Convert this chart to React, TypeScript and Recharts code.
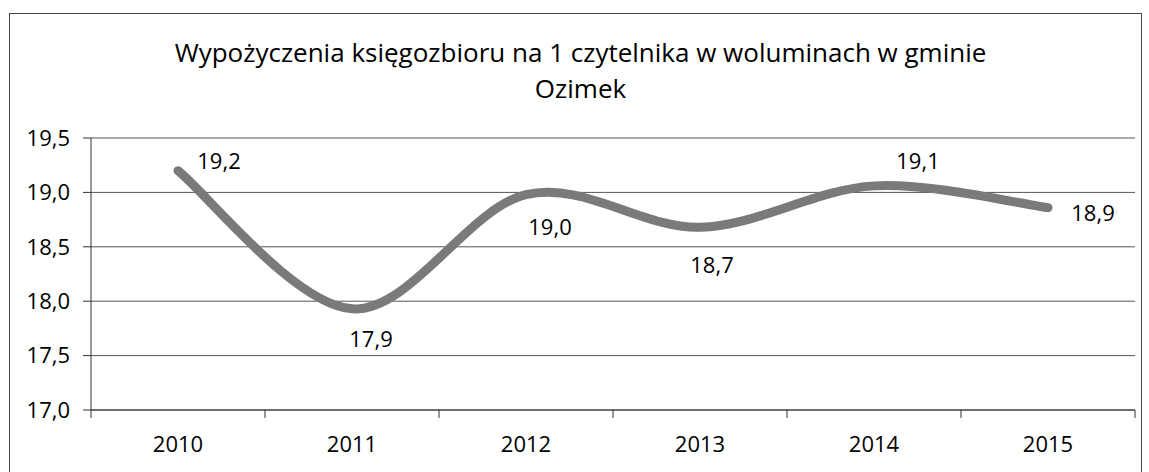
import { CartesianGrid, LabelList, Line, LineChart, XAxis, YAxis } from "recharts";

const years = ["2010", "2011", "2012", "2013", "2014", "2015"];
const loansPerReader = [19.2, 17.93, 18.98, 18.68, 19.06, 18.86];
const yTicks = [17, 17.5, 18, 18.5, 19, 19.5];
const separatorTicks = [-0.5, 0.5, 1.5, 2.5, 3.5, 4.5, 5.5];

const data = years.map((year, idx) => ({ idx, year, value: loansPerReader[idx] }));

// label offsets from the point, per year (dx, dy)
const labelOffsets = [
  [41, -11],
  [19, 29],
  [24, 31],
  [12, 37],
  [44, -26],
  [45, 4],
];

const FONT = "'Open Sans', sans-serif";
const fmt = (v: number) => v.toFixed(1).replace(".", ",");

// Excel-like smoothed line (Catmull-Rom through the points)
function excelSmooth(context: any) {
  let pts: number[][] = [];
  return {
    areaStart() {},
    areaEnd() {},
    lineStart() {
      pts = [];
    },
    point(x: number, y: number) {
      pts.push([+x, +y]);
    },
    lineEnd() {
      if (!pts.length) return;
      context.moveTo(pts[0][0], pts[0][1]);
      for (let i = 0; i < pts.length - 1; i++) {
        const p0 = pts[i - 1] || pts[i];
        const p1 = pts[i];
        const p2 = pts[i + 1];
        const p3 = pts[i + 2] || pts[i + 1];
        context.bezierCurveTo(
          p1[0] + (p2[0] - p0[0]) / 6,
          p1[1] + (p2[1] - p0[1]) / 6,
          p2[0] - (p3[0] - p1[0]) / 6,
          p2[1] - (p3[1] - p1[1]) / 6,
          p2[0],
          p2[1]
        );
      }
    },
  };
}

function ValueLabel(props: any) {
  const { x, y, value, index } = props;
  const [dx, dy] = labelOffsets[index] || [0, 0];
  return (
    <text
      x={x + dx}
      y={y + dy}
      textAnchor="middle"
      dominantBaseline="central"
      fontFamily={FONT}
      fontSize={22}
      fill="#000"
    >
      {fmt(value)}
    </text>
  );
}

export default function App() {
  return (
    <div
      style={{
        position: "absolute",
        left: 0,
        top: 0,
        width: 1149,
        height: 472,
        background: "#fff",
        overflow: "hidden",
        fontFamily: FONT,
      }}
    >
      <div
        style={{
          position: "absolute",
          left: 9,
          top: 13,
          width: 1131,
          height: 470,
          border: "1px solid #444",
        }}
      />
      <div
        style={{
          position: "absolute",
          left: 14,
          top: 34,
          width: 1133,
          textAlign: "center",
          fontSize: 26,
          lineHeight: "36px",
          color: "#000",
        }}
      >
        Wypożyczenia księgozbioru na 1 czytelnika w woluminach w gminie
        <br />
        Ozimek
      </div>
      <LineChart
        width={1149}
        height={472}
        data={data}
        margin={{ top: 138, right: 14, bottom: 22, left: 0 }}
        style={{ position: "absolute", left: 0, top: 0 }}
      >
        <CartesianGrid stroke="#555" vertical={false} />
        <XAxis
          xAxisId="sep"
          type="number"
          dataKey="idx"
          domain={[-0.5, 5.5]}
          ticks={separatorTicks}
          tickFormatter={() => ""}
          tickSize={8}
          height={8}
          stroke="#333"
          allowDataOverflow
        />
        <XAxis
          xAxisId="years"
          type="number"
          dataKey="idx"
          domain={[-0.5, 5.5]}
          ticks={[0, 1, 2, 3, 4, 5]}
          tickFormatter={(v: number) => years[v]}
          axisLine={false}
          tickLine={false}
          tickMargin={12}
          height={32}
          tick={{ fill: "#000", fontSize: 22, fontFamily: FONT }}
          allowDataOverflow
        />
        <YAxis
          width={91}
          domain={[17, 19.5]}
          ticks={yTicks}
          tickFormatter={fmt}
          tickSize={8}
          tickMargin={13}
          stroke="#333"
          tick={{ fill: "#000", fontSize: 22, fontFamily: FONT }}
          allowDataOverflow
        />
        <Line
          xAxisId="years"
          dataKey="value"
          type={excelSmooth as any}
          stroke="#7a7a7a"
          strokeWidth={9}
          strokeLinecap="round"
          dot={false}
          activeDot={false}
          isAnimationActive={false}
        >
          <LabelList dataKey="value" content={ValueLabel} />
        </Line>
      </LineChart>
    </div>
  );
}
